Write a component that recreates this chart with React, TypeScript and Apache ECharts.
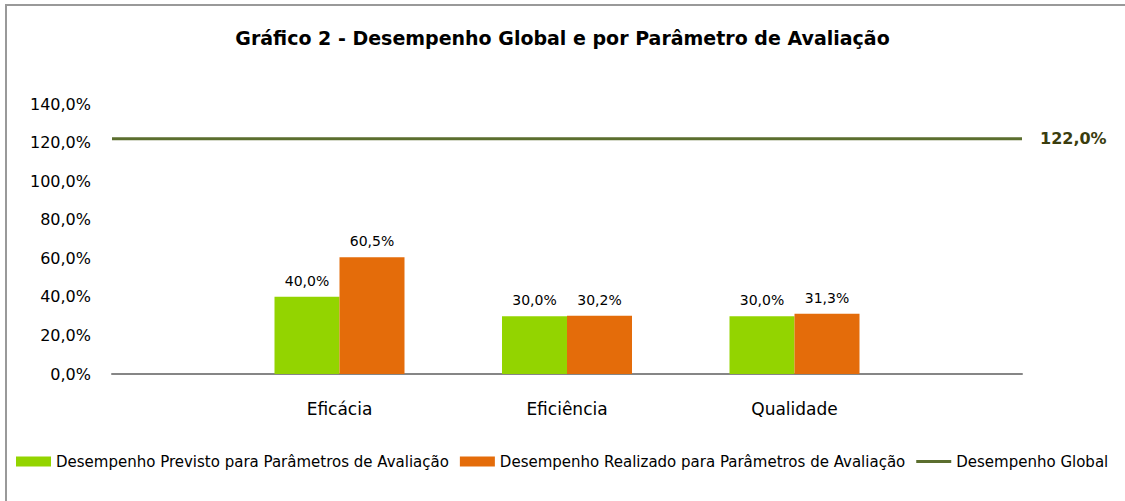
import React, { useEffect, useRef } from "react";
import * as echarts from "echarts";

const categories = ["", "Eficácia", "Eficiência", "Qualidade", ""];
const previsto = [null, 40.0, 30.0, 30.0, null];
const realizado = [null, 60.5, 30.2, 31.3, null];
const global = [122.0, 122.0, 122.0, 122.0, 122.0];
const seriesNames = [
  "Desempenho Previsto para Parâmetros de Avaliação",
  "Desempenho Realizado para Parâmetros de Avaliação",
  "Desempenho Global",
];
const title = "Gráfico 2 - Desempenho Global e por Parâmetro de Avaliação";

const FONT = "DejaVu Sans";
const fmt = (v: number) => v.toFixed(1).replace(".", ",") + "%";

export default function App() {
  const ref = useRef<HTMLDivElement>(null);
  useEffect(() => {
    document.body.style.margin = "0";
    const chart = echarts.init(ref.current!, null, { renderer: "svg" });
    chart.setOption({
      animation: false,
      backgroundColor: "#ffffff",
      textStyle: { fontFamily: FONT },
      title: {
        text: title,
        left: "center",
        top: 23,
        textStyle: { fontFamily: FONT, fontSize: 19, fontWeight: "bold", color: "#000" },
      },
      graphic: [
        {
          type: "rect",
          shape: { x: 6, y: 5, width: 1300, height: 700 },
          style: { fill: "none", stroke: "#999999", lineWidth: 2 },
          silent: true,
        },
      ],
      legend: {
        left: 11,
        top: 449,
        itemWidth: 35,
        itemHeight: 10,
        itemGap: 11,
        textStyle: { fontFamily: FONT, fontSize: 15, color: "#000" },
        data: [
          { name: seriesNames[0], icon: "rect" },
          { name: seriesNames[1], icon: "rect" },
          { name: seriesNames[2], icon: "path://M0,0 M37,10 M0,3.5 L37,3.5 L37,6.5 L0,6.5 Z" },
        ],
      },
      grid: { left: 112, right: 103, top: 104, bottom: 127 },
      xAxis: {
        type: "category",
        data: categories,
        boundaryGap: false,
        axisLine: { lineStyle: { color: "#868686", width: 2 } },
        axisTick: { show: false },
        axisLabel: { fontFamily: FONT, fontSize: 17, color: "#000", margin: 26 },
      },
      yAxis: {
        type: "value",
        min: 0,
        max: 140,
        interval: 20,
        axisLine: { show: false },
        axisTick: { show: false },
        splitLine: { show: false },
        axisLabel: {
          fontFamily: FONT,
          fontSize: 16,
          color: "#000",
          margin: 21,
          formatter: (v: number) => fmt(v),
        },
      },
      series: [
        {
          name: seriesNames[0],
          type: "bar",
          data: previsto,
          barWidth: 65,
          barGap: "0%",
          itemStyle: { color: "#93d400" },
          label: {
            show: true,
            position: "top",
            distance: 9,
            fontFamily: FONT,
            fontSize: 14,
            color: "#000",
            formatter: (p: any) => fmt(p.value),
          },
        },
        {
          name: seriesNames[1],
          type: "bar",
          data: realizado,
          barWidth: 65,
          barGap: "0%",
          itemStyle: { color: "#e46c0a" },
          label: {
            show: true,
            position: "top",
            distance: 9,
            fontFamily: FONT,
            fontSize: 14,
            color: "#000",
            formatter: (p: any) => fmt(p.value),
          },
        },
        {
          name: seriesNames[2],
          type: "line",
          data: global,
          symbol: "none",
          showSymbol: false,
          lineStyle: { color: "#5b6e2e", width: 3 },
          itemStyle: { color: "#5b6e2e" },
          endLabel: {
            show: true,
            distance: 18,
            fontFamily: FONT,
            fontSize: 16,
            fontWeight: "bold",
            color: "#3a3d0e",
            formatter: (p: any) => fmt(p.value),
          },
        },
      ],
    });
    return () => chart.dispose();
  }, []);
  return <div ref={ref} style={{ width: 1125, height: 501 }} />;
}
